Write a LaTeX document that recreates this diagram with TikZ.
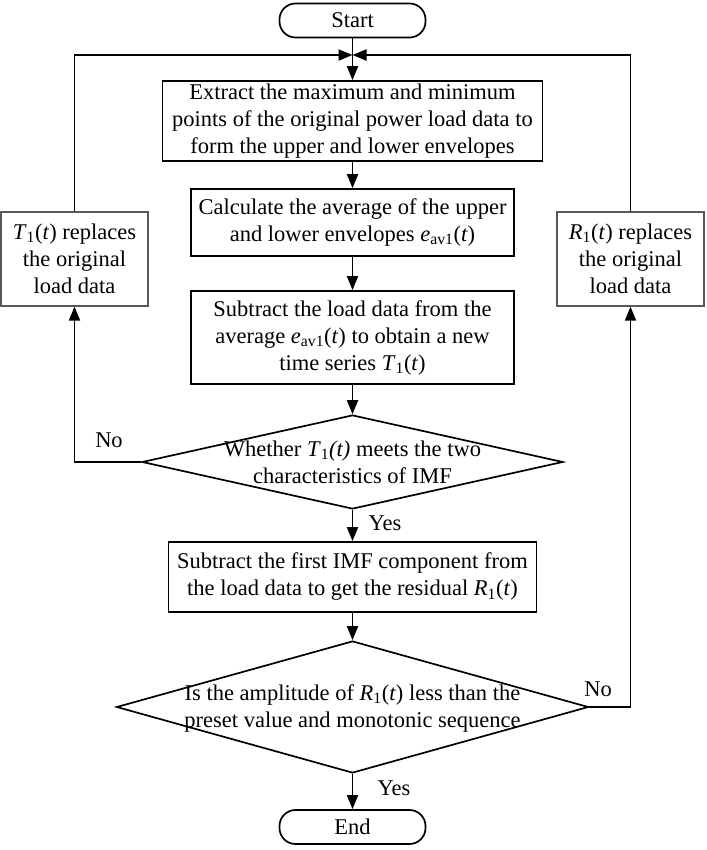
\documentclass[tikz,border=0pt]{standalone}
\usepackage{fontspec}
\setmainfont{Liberation Serif}
\usetikzlibrary{arrows.meta,shapes.geometric}
\begin{document}
\begin{tikzpicture}[x=1pt,y=-1pt,
  font=\fontsize{22.5}{27}\selectfont,
  box/.style={draw,line width=1.7pt,align=center,inner sep=0pt},
  sidebox/.style={draw=gray!70!black,line width=1.2pt,align=center,inner sep=0pt,minimum width=147pt,minimum height=94pt},
  term/.style={draw,line width=1.7pt,rounded corners=16pt,inner sep=0pt,minimum width=146pt,minimum height=34pt},
  dia/.style={draw,diamond,line width=1.7pt,inner sep=0pt},
  arr/.style={line width=1.9pt,-{Triangle[length=14pt,width=11pt]}},
  lab/.style={inner sep=0pt}]
\useasboundingbox (0,0) rectangle (706,850);
\node[term] (start) at (352.5,20.5) {Start};
\coordinate (junc) at (352.5,55);
\node[box,minimum width=380pt,minimum height=80pt] (box1) at (352.5,121)
  {Extract the maximum and minimum\\points of the original power load data to\\form the upper and lower envelopes};
\node[box,minimum width=323pt,minimum height=67pt] (box2) at (352.5,222.5)
  {Calculate the average of the upper\\and lower envelopes \textit{e}\textsubscript{av1}(\textit{t})};
\node[box,minimum width=323pt,minimum height=93pt] (box3) at (352.5,337.5)
  {Subtract the load data from the\\average \textit{e}\textsubscript{av1}(\textit{t}) to obtain a new\\time series \textit{T}\textsubscript{1}(\textit{t})};
\node[dia,minimum width=421pt,minimum height=94pt] (d1) at (352.5,462) {};
\node[align=center,inner sep=0pt] (d1t) at (352.5,462)
  {Whether \textit{T}\textsubscript{1}\textit{(t)} meets the two\\characteristics of IMF};
\node[box,minimum width=368pt,minimum height=70pt] (box5) at (352.5,577)
  {Subtract the first IMF component from\\the load data to get the residual \textit{R}\textsubscript{1}(\textit{t})};
\node[dia,minimum width=472pt,minimum height=132pt] (d2) at (352.5,707) {};
\node[align=center,inner sep=0pt] (d2t) at (352.5,708)
  {Is the amplitude of \textit{R}\textsubscript{1}(\textit{t}) less than the\\preset value and monotonic sequence};
\node[term] (end) at (352.5,827) {End};
\node[sidebox] (lbox) at (74.5,259) {\textit{T}\textsubscript{1}(\textit{t}) replaces\\the original\\load data};
\node[sidebox] (rbox) at (630.5,259) {\textit{R}\textsubscript{1}(\textit{t}) replaces\\the original\\load data};
\draw[arr] (start) -- (box1);
\draw[arr] (lbox.north) |- (junc);
\draw[arr] (rbox.north) |- (junc);
\draw[arr] (box1) -- (box2);
\draw[arr] (box2) -- (box3);
\draw[arr] (box3) -- (d1);
\draw[arr] (d1.west) -| (lbox.south);
\draw[arr] (d1.south) -- (box5);
\draw[arr] (box5) -- (d2);
\draw[arr] (d2.east) -| (rbox.south);
\draw[arr] (d2.south) -- (end);
\node[lab] (no1) at (109,440) {No};
\node[lab] (yes1) at (385,523) {Yes};
\node[lab] (no2) at (598,689) {No};
\node[lab] (yes2) at (394,788) {Yes};
\end{tikzpicture}
\end{document}
